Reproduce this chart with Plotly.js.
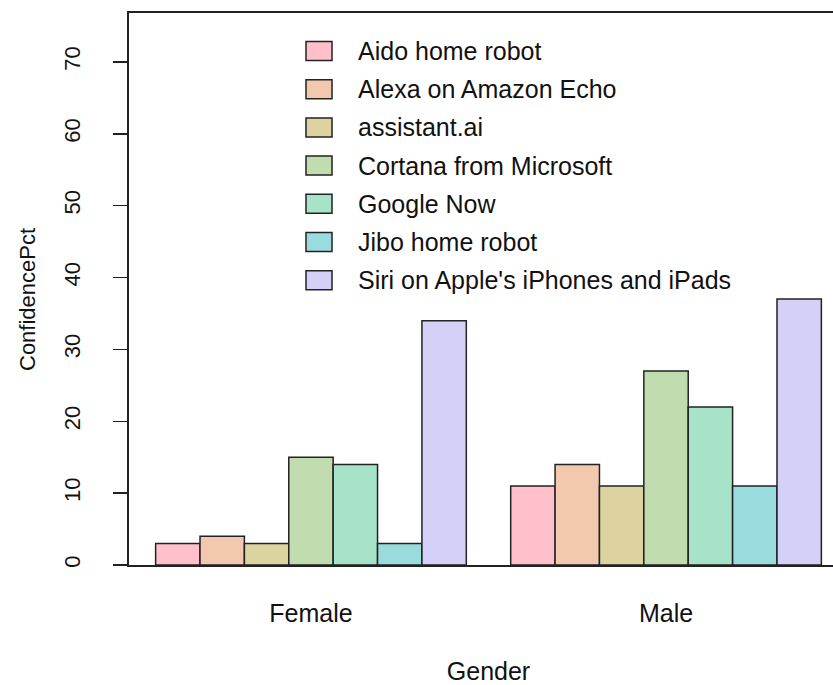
<!DOCTYPE html>
<html>
<head>
<meta charset="utf-8">
<script src="https://cdn.plot.ly/plotly-3.0.1.min.js"></script>
<style>
html,body{margin:0;padding:0;overflow:hidden;background:#fff;}
#chart{width:850px;height:685px;}
</style>
</head>
<body>
<div id="chart"></div>
<script>
// ---- data ----
var genders = ['Female', 'Male'];
var assistants = [
  'Aido home robot',
  'Alexa on Amazon Echo',
  'assistant.ai',
  'Cortana from Microsoft',
  'Google Now',
  'Jibo home robot',
  "Siri on Apple's iPhones and iPads"
];
var femalePct = [3, 4, 3, 15, 14, 3, 34];
var malePct   = [11, 14, 11, 27, 22, 11, 37];
var colors = ['#FFC0CB', '#F2C8AF', '#DDD3A1', '#C1DDAF', '#A6E3C9', '#9ADCDE', '#D4D0F8'];
var yTicks = [0, 10, 20, 30, 40, 50, 60, 70];
var yTitle = 'ConfidencePct';
var xTitle = 'Gender';

var FONT = '"Liberation Sans", Arial, sans-serif';
var INK = '#222';

var traces = assistants.map(function (name, i) {
  return {
    type: 'bar',
    name: name,
    x: genders,
    y: [femalePct[i], malePct[i]],
    marker: {color: colors[i], line: {color: INK, width: 1.5}},
    showlegend: false,
    hoverinfo: 'x+y+name'
  };
});

// plot area geometry (px)
var W = 850, H = 685, L = 129, R = 2, T = 13, B = 120;
var pw = W - L - R, ph = H - T - B;
function px2x(p) { return (p - L) / pw; }
function py2y(p) { return (H - B - p) / ph; }

var shapes = [], annotations = [];
assistants.forEach(function (name, i) {
  var cy = 51 + i * 38.2;
  shapes.push({
    type: 'rect', xref: 'paper', yref: 'paper',
    x0: px2x(306), x1: px2x(332), y0: py2y(cy + 9.5), y1: py2y(cy - 9.5),
    fillcolor: colors[i], line: {color: INK, width: 1.5}
  });
  annotations.push({
    xref: 'paper', yref: 'paper', x: px2x(356), y: py2y(cy),
    xanchor: 'left', yanchor: 'middle', showarrow: false,
    text: name, font: {family: FONT, size: 25, color: '#111'}
  });
});
// y-axis title placed as in the reference
annotations.push({
  xref: 'paper', yref: 'paper', x: px2x(27), y: py2y(300),
  xanchor: 'center', yanchor: 'middle', showarrow: false, textangle: -90,
  text: yTitle, font: {family: FONT, size: 22, color: '#111'}
});

var layout = {
  width: W, height: H,
  margin: {l: L, r: R, t: T, b: B, pad: 0},
  paper_bgcolor: '#fff', plot_bgcolor: '#fff',
  barmode: 'group', bargap: 0.125, bargroupgap: 0,
  font: {family: FONT, color: '#111'},
  xaxis: {
    type: 'category',
    range: [-0.5125, 1.5125],
    showline: true, mirror: true, linecolor: INK, linewidth: 1.8,
    ticks: '', showgrid: false, zeroline: false,
    tickfont: {family: FONT, size: 25, color: '#111'},
    ticklabelstandoff: 25,
    title: {text: xTitle, font: {family: FONT, size: 25, color: '#111'}, standoff: 38},
    automargin: false, fixedrange: true
  },
  yaxis: {
    range: [0, 76.8],
    tickvals: yTicks, ticktext: yTicks.map(String),
    ticks: 'outside', ticklen: 14, tickwidth: 1.5, tickcolor: INK,
    tickangle: -90,
    tickfont: {family: FONT, size: 22, color: '#111'},
    ticklabelstandoff: 24,
    showline: true, mirror: true, linecolor: INK, linewidth: 1.8,
    showgrid: false, zeroline: false,
    automargin: false, fixedrange: true
  },
  shapes: shapes,
  annotations: annotations
};

Plotly.newPlot('chart', traces, layout, {staticPlot: true, displayModeBar: false});
</script>
</body>
</html>
